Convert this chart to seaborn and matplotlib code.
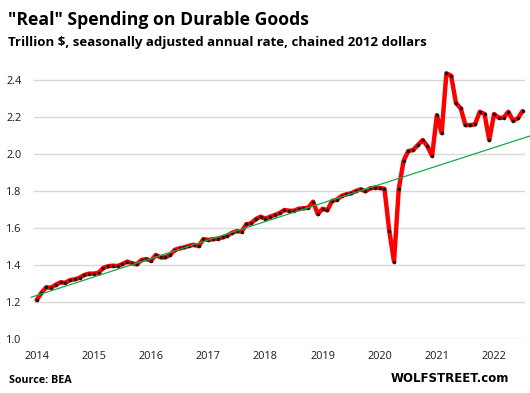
import matplotlib
matplotlib.use("Agg")
import matplotlib.pyplot as plt
import seaborn as sns
import numpy as np
import pandas as pd

# ---- data (trillion $, SAAR, chained 2012 dollars), monthly Jan 2014 - Jul 2022
v2014 = [1.212, 1.252, 1.281, 1.279, 1.295, 1.308, 1.306, 1.320, 1.324, 1.333, 1.348, 1.355]
v2015 = [1.355, 1.360, 1.387, 1.395, 1.398, 1.396, 1.407, 1.420, 1.411, 1.405, 1.429, 1.434]
v2016 = [1.425, 1.456, 1.443, 1.443, 1.456, 1.484, 1.492, 1.497, 1.506, 1.511, 1.504, 1.542]
v2017 = [1.537, 1.541, 1.544, 1.551, 1.560, 1.576, 1.585, 1.582, 1.622, 1.627, 1.650, 1.663]
v2018 = [1.652, 1.663, 1.672, 1.683, 1.699, 1.695, 1.695, 1.706, 1.708, 1.712, 1.744, 1.677]
v2019 = [1.706, 1.697, 1.748, 1.755, 1.775, 1.784, 1.789, 1.802, 1.811, 1.800, 1.816, 1.820]
v2020 = [1.818, 1.814, 1.587, 1.420, 1.812, 1.964, 2.018, 2.023, 2.050, 2.077, 2.045, 1.991]
v2021 = [2.212, 2.115, 2.438, 2.425, 2.277, 2.249, 2.158, 2.158, 2.162, 2.230, 2.218, 2.077]
v2022 = [2.218, 2.198, 2.198, 2.230, 2.182, 2.195, 2.234]

trend_month = [-1.2, 103.5]      # months since Jan 2014
trend_value = [1.227, 2.099]

year_labels = ["2014", "2015", "2016", "2017", "2018", "2019", "2020", "2021", "2022"]
y_ticks = [1.0, 1.2, 1.4, 1.6, 1.8, 2.0, 2.2, 2.4]

values = v2014 + v2015 + v2016 + v2017 + v2018 + v2019 + v2020 + v2021 + v2022
df = pd.DataFrame({"month": np.arange(len(values)), "value": values})
tdf = pd.DataFrame({"month": trend_month, "value": trend_value})

sns.set_theme(style="white")
plt.rcParams["font.family"] = ["Open Sans", "DejaVu Sans"]

W, H = 530, 393
fig = plt.figure(figsize=(W/100, H/100), dpi=100)
ax = fig.add_axes([34/W, 1-339.3/H, (525-34)/W, (339.3-67.4)/H])

sns.lineplot(data=df, x="month", y="value", ax=ax, color="#ff0000", linewidth=3.2,
             marker="o", markersize=2.6, markerfacecolor="#1a1a1a",
             markeredgecolor="#1a1a1a", markeredgewidth=0, clip_on=False, zorder=3)
sns.lineplot(data=tdf, x="month", y="value", ax=ax, color="#1aa84a", linewidth=0.9,
             clip_on=False, zorder=4)

ax.set_xlim(-0.57, 102.5)
ax.set_ylim(1.0, 2.47)
ax.set_yticks(y_ticks)
ax.set_yticklabels([f"{t:.1f}" for t in y_ticks])
ax.set_xticks(np.arange(len(year_labels)) * 12)
ax.set_xticklabels(year_labels)
ax.set_xlabel("")
ax.set_ylabel("")
ax.grid(axis="y", color="#d9d9d9", linewidth=1.0)
ax.grid(axis="x", visible=False)
ax.set_axisbelow(True)
for s in ax.spines.values():
    s.set_visible(False)
ax.tick_params(axis="y", length=0, pad=9, labelsize=7.8, labelcolor="#1a1a1a")
ax.tick_params(axis="x", length=0, pad=8.5, labelsize=7.8, labelcolor="#1a1a1a")

texts = []
texts.append((fig.text(8/W, 1-25/H, "\"Real\" Spending on Durable Goods", fontsize=11,
              fontweight="bold", va="baseline", ha="left", color="black"), 300))
texts.append((fig.text(8/W, 1-45.7/H, "Trillion $, seasonally adjusted annual rate, chained 2012 dollars",
              fontsize=8, fontweight="bold", va="baseline", ha="left", color="black"), 417))
texts.append((fig.text(9/W, 1-382.7/H, "Source: BEA", fontsize=8, fontweight="bold",
              va="baseline", ha="left", color="black"), 63))
texts.append((fig.text(509/W, 1-381.7/H, "WOLFSTREET.com", fontsize=10, fontweight="bold",
              va="baseline", ha="right", color="black", family=["DejaVu Sans"]), 119))

fig.canvas.draw()
r = fig.canvas.get_renderer()
for t, target in texts:
    w = t.get_window_extent(r).width
    t.set_fontsize(t.get_fontsize() * target / w)

fig.savefig("out.png", dpi=100)
